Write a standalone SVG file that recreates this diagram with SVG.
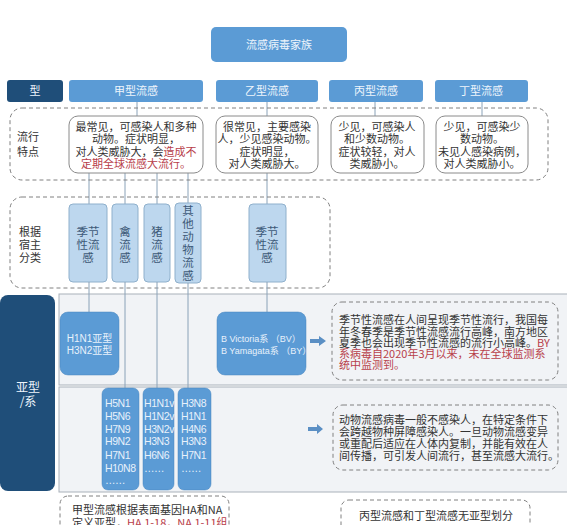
<svg xmlns="http://www.w3.org/2000/svg" width="567" height="525" viewBox="0 0 567 525">
<style>
text{font-family:"Noto Sans CJK SC","Liberation Sans",sans-serif;}
.mid{fill:#5b9bd5;}
.dark{fill:#1f4e79;}
.wt{fill:#eef5fc;font-size:11px;text-anchor:middle;}
.dt{fill:#333;font-size:11px;}
.c{text-anchor:middle;}
.red{fill:#b8404a;}
.dash{fill:none;stroke:#808080;stroke-width:1;stroke-dasharray:4 3;}
.card{fill:#fff;stroke:#8a8a8a;stroke-width:1;}
.host{fill:#bdd7ee;stroke:#8fb0cc;stroke-width:1;}
.hostt{fill:#3d5a78;font-size:11.5px;text-anchor:middle;}
.panel{fill:#f1f3f6;stroke:#a9b1ba;stroke-width:1;}
.sub{fill:#5b9bd5;stroke:#4a87bf;stroke-width:0.5;}
.subt{fill:#e8f1fb;font-size:10.5px;letter-spacing:-0.4px;font-family:"Liberation Sans","Noto Sans CJK SC",sans-serif;}
.ln{stroke:#8aa2b8;stroke-width:1;fill:none;}
.arr{fill:#5b8fc4;}
</style>
<rect width="567" height="525" fill="#fff"/>

<g id="connectors">
<line class="ln" x1="137" y1="102" x2="137" y2="116"/>
<line class="ln" x1="267" y1="102" x2="267" y2="116"/>
<line class="ln" x1="375" y1="102" x2="375" y2="116"/>
<line class="ln" x1="482" y1="102" x2="482" y2="116"/>
<line class="ln" x1="89" y1="173" x2="89" y2="204"/>
<line class="ln" x1="125" y1="173" x2="125" y2="204"/>
<line class="ln" x1="157" y1="173" x2="157" y2="204"/>
<line class="ln" x1="188" y1="173" x2="188" y2="203"/>
<line class="ln" x1="267" y1="173" x2="267" y2="204"/>
</g>

<g id="title"><rect class="mid" x="211" y="27" width="136" height="35" rx="5"/><text class="wt" x="279" y="49">流感病毒家族</text></g>

<g id="type-label"><rect class="dark" x="7" y="80" width="56" height="22" rx="3"/><text class="wt" x="35" y="95">型</text></g>
<g id="typeA"><rect class="mid" x="69" y="80" width="134" height="22" rx="3"/><text class="wt" x="136" y="95">甲型流感</text></g>
<g id="typeB"><rect class="mid" x="216" y="80" width="102" height="22" rx="3"/><text class="wt" x="267" y="95">乙型流感</text></g>
<g id="typeC"><rect class="mid" x="329" y="80" width="94" height="22" rx="3"/><text class="wt" x="376" y="95">丙型流感</text></g>
<g id="typeD"><rect class="mid" x="435" y="80" width="93" height="22" rx="3"/><text class="wt" x="481" y="95">丁型流感</text></g>

<g id="epi-group">
<rect class="dash" x="10" y="108" width="538" height="72" rx="12"/>
<text class="dt" x="17" y="141">流行</text><text class="dt" x="17" y="156">特点</text>
</g>
<g id="epiA"><rect class="card" x="69" y="116" width="134" height="57" rx="9"/>
<text class="dt c" x="136" y="131">最常见，可感染人和多种</text>
<text class="dt c" x="136" y="143">动物。症状明显，</text>
<text class="dt c" x="136" y="156">对人类威胁大，会<tspan class="red">造成不</tspan></text>
<text class="dt c red" x="136" y="168">定期全球流感大流行。</text></g>
<g id="epiB"><rect class="card" x="216" y="116" width="102" height="57" rx="9"/>
<text class="dt c" x="267" y="131">很常见，主要感染</text>
<text class="dt c" x="267" y="143">人，少见感染动物。</text>
<text class="dt c" x="267" y="156">症状明显，</text>
<text class="dt c" x="267" y="168">对人类威胁大。</text></g>
<g id="epiC"><rect class="card" x="331" y="116" width="93" height="57" rx="9"/>
<text class="dt c" x="377" y="131">少见，可感染人</text>
<text class="dt c" x="377" y="143">和少数动物。</text>
<text class="dt c" x="377" y="156">症状较轻，对人</text>
<text class="dt c" x="377" y="168">类威胁小。</text></g>
<g id="epiD"><rect class="card" x="436" y="116" width="92" height="57" rx="9"/>
<text class="dt c" x="482" y="131">少见，可感染少</text>
<text class="dt c" x="482" y="143">数动物。</text>
<text class="dt c" x="482" y="156">未见人感染病例，</text>
<text class="dt c" x="482" y="168">对人类威胁小。</text></g>

<g id="host-group">
<rect class="dash" x="10" y="197" width="320" height="91" rx="12"/>
<text class="dt" x="19" y="236">根据</text><text class="dt" x="19" y="249">宿主</text><text class="dt" x="19" y="262">分类</text>
</g>
<g id="hostA-seasonal"><rect class="host" x="69" y="204" width="38" height="78" rx="4"/>
<text class="hostt" x="88" y="236">季节</text><text class="hostt" x="88" y="249">性流</text><text class="hostt" x="88" y="262">感</text></g>
<g id="host-avian"><rect class="host" x="112" y="204" width="26" height="78" rx="4"/>
<text class="hostt" x="125" y="236">禽</text><text class="hostt" x="125" y="249">流</text><text class="hostt" x="125" y="262">感</text></g>
<g id="host-swine"><rect class="host" x="144" y="204" width="26" height="78" rx="4"/>
<text class="hostt" x="157" y="236">猪</text><text class="hostt" x="157" y="249">流</text><text class="hostt" x="157" y="262">感</text></g>
<g id="host-other"><rect class="host" x="175" y="203" width="26" height="80" rx="4"/>
<text class="hostt" x="188" y="215">其</text><text class="hostt" x="188" y="228">他</text><text class="hostt" x="188" y="241">动</text><text class="hostt" x="188" y="254">物</text><text class="hostt" x="188" y="267">流</text><text class="hostt" x="188" y="280">感</text></g>
<g id="hostB-seasonal"><rect class="host" x="249" y="204" width="37" height="78" rx="4"/>
<text class="hostt" x="267" y="236">季节</text><text class="hostt" x="267" y="249">性流</text><text class="hostt" x="267" y="262">感</text></g>

<g id="subtype-label"><rect class="dark" x="0" y="295" width="55" height="196" rx="8"/>
<text class="wt" x="28" y="392" style="font-size:12px">亚型</text><text class="wt" x="28" y="406" style="font-size:12px">/系</text></g>

<g id="panels">
<rect class="panel" x="59" y="294" width="515" height="91"/>
<rect class="panel" x="59" y="387" width="515" height="105"/>
</g>

<g id="connectors2">
<line class="ln" x1="89" y1="282" x2="89" y2="312"/>
<line class="ln" x1="125" y1="282" x2="125" y2="388"/>
<line class="ln" x1="157" y1="282" x2="157" y2="388"/>
<line class="ln" x1="188" y1="283" x2="188" y2="388"/>
<line class="ln" x1="267" y1="282" x2="267" y2="312"/>
</g>

<g id="subA"><rect class="sub" x="60" y="312" width="59" height="63" rx="8"/>
<text class="subt" x="89.5" y="342" text-anchor="middle" style="font-size:10px;letter-spacing:0">H1N1亚型</text>
<text class="subt" x="89.5" y="354" text-anchor="middle" style="font-size:10px;letter-spacing:0">H3N2亚型</text></g>
<g id="subB"><rect class="sub" x="217" y="312" width="89" height="63" rx="8"/>
<text class="subt" x="221" y="342" style="font-size:9px;letter-spacing:0">B Victoria系 （BV）</text>
<text class="subt" x="221" y="354" style="font-size:9px;letter-spacing:0">B Yamagata系 （BY）</text></g>

<g id="arrow1"><path class="arr" d="M310 339 H319 V336 L326 341 L319 346 V343 H310 Z"/></g>
<g id="note1"><rect class="dash" x="332" y="302" width="226" height="78" rx="10"/>
<text class="dt" x="339" y="324">季节性流感在人间呈现季节性流行，我国每</text>
<text class="dt" x="339" y="336">年冬春季是季节性流感流行高峰，南方地区</text>
<text class="dt" x="339" y="347">夏季也会出现季节性流感的流行小高峰。<tspan class="red">BY</tspan></text>
<text class="dt red" x="339" y="358">系病毒自2020年3月以来，未在全球监测系</text>
<text class="dt red" x="339" y="369">统中监测到。</text></g>

<g id="sub-avian"><rect class="sub" x="102" y="388" width="37" height="102" rx="6"/>
<text class="subt" x="105" y="407">H5N1</text><text class="subt" x="105" y="420">H5N6</text><text class="subt" x="105" y="433">H7N9</text><text class="subt" x="105" y="445">H9N2</text><text class="subt" x="105" y="459">H7N1</text><text class="subt" x="105" y="472">H10N8</text><text class="subt" x="105" y="484">……</text></g>
<g id="sub-swine"><rect class="sub" x="143" y="388" width="31" height="102" rx="6"/>
<text class="subt" x="144" y="407">H1N1v</text><text class="subt" x="144" y="420">H1N2v</text><text class="subt" x="144" y="433">H3N2v</text><text class="subt" x="144" y="445">H3N3</text><text class="subt" x="144" y="459">H6N6</text><text class="subt" x="144" y="472">……</text></g>
<g id="sub-other"><rect class="sub" x="178" y="388" width="33" height="102" rx="6"/>
<text class="subt" x="181" y="407">H3N8</text><text class="subt" x="181" y="420">H1N1</text><text class="subt" x="181" y="433">H4N6</text><text class="subt" x="181" y="445">H3N3</text><text class="subt" x="181" y="459">H7N1</text><text class="subt" x="181" y="472">……</text></g>

<g id="arrow2"><path class="arr" d="M308 427 H317 V424 L323 429 L317 434 V431 H308 Z"/></g>
<g id="note2"><rect class="dash" x="333" y="405" width="225" height="65" rx="10"/>
<text class="dt" x="339" y="424">动物流感病毒一般不感染人，在特定条件下</text>
<text class="dt" x="339" y="436">会跨越物种屏障感染人。一旦动物流感变异</text>
<text class="dt" x="339" y="448">或重配后适应在人体内复制，并能有效在人</text>
<text class="dt" x="339" y="460">间传播，可引发人间流行，甚至流感大流行。</text></g>

<g id="noteA"><rect class="dash" x="60" y="496" width="169" height="40" rx="8"/>
<text class="dt" x="72" y="514">甲型流感根据表面基因HA和NA</text>
<text class="dt" x="72" y="527">定义亚型，<tspan class="red">HA 1-18，NA 1-11组</tspan></text></g>
<g id="noteCD"><rect class="dash" x="341" y="500" width="189" height="36" rx="8"/>
<text class="dt c" x="436" y="520">丙型流感和丁型流感无亚型划分</text></g>
</svg>
